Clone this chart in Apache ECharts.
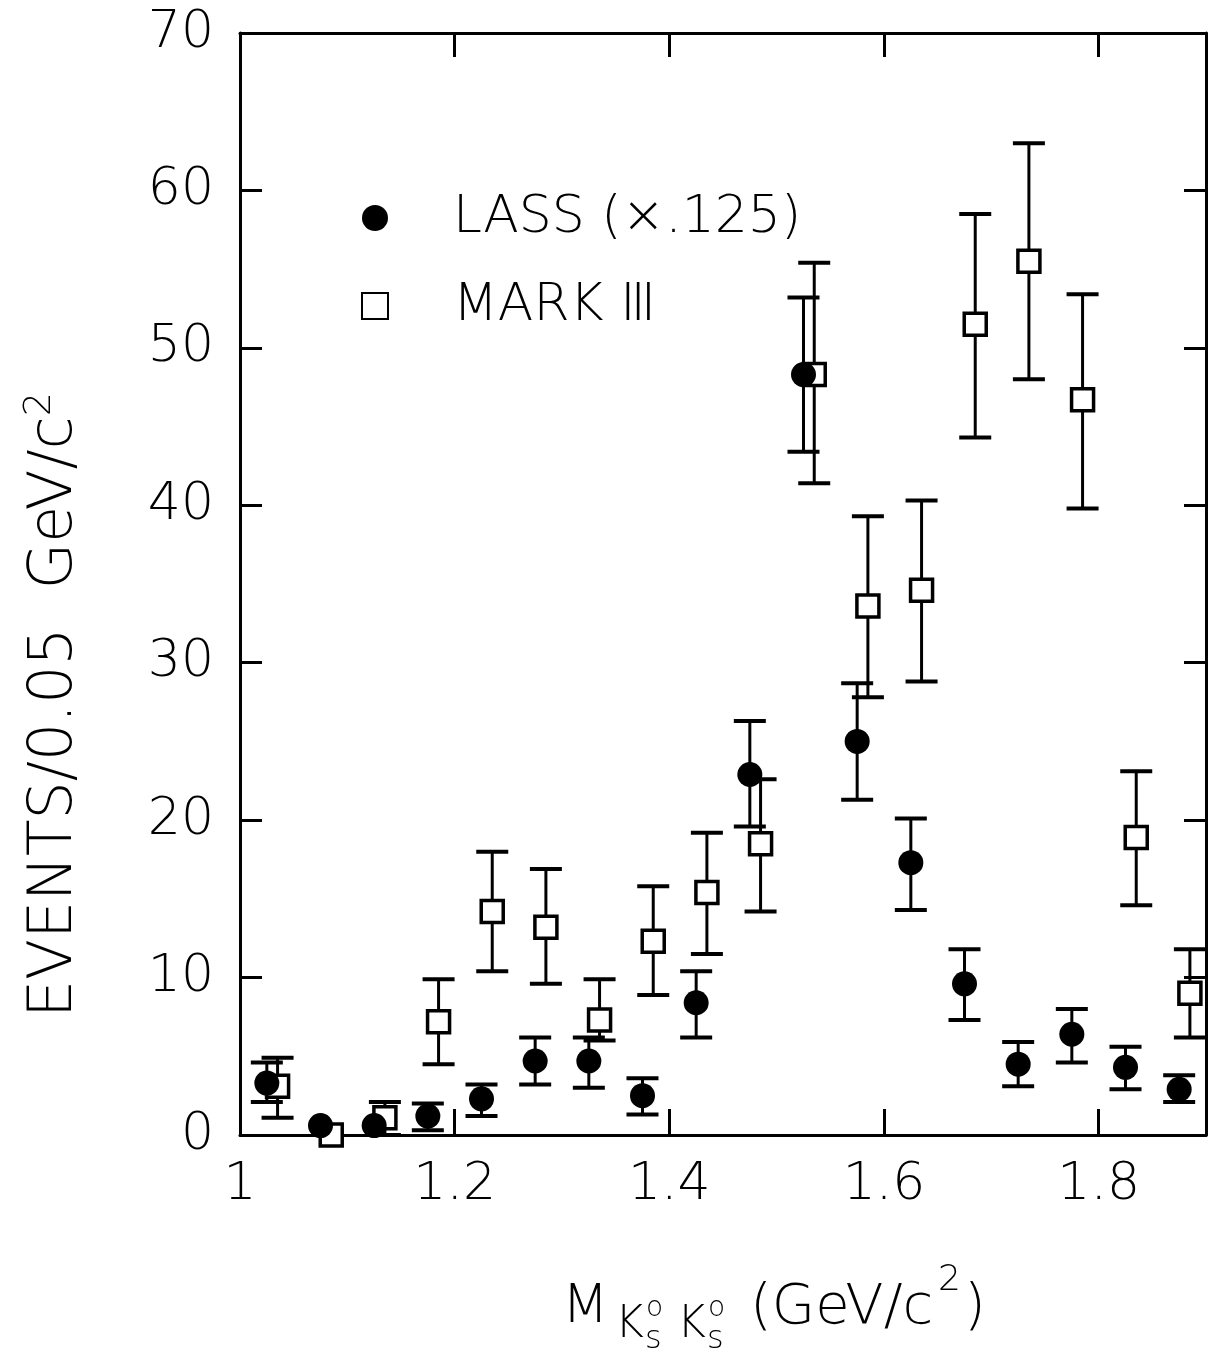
<!DOCTYPE html>
<html>
<head>
<meta charset="utf-8">
<script src="https://cdn.jsdelivr.net/npm/echarts/dist/echarts.min.js"></script>
<style>
  html, body { margin: 0; padding: 0; background: #fff; }
  #main { width: 1210px; height: 1354px; }
</style>
</head>
<body>
<div id="main"></div>
<script>
// bin centres (GeV/c^2), 0.05 wide bins
var binX = [1.025, 1.075, 1.125, 1.175, 1.225, 1.275, 1.325, 1.375, 1.425,
            1.475, 1.525, 1.575, 1.625, 1.675, 1.725, 1.775, 1.825, 1.875];
// MARK III points are drawn slightly shifted to the right
var markShift = 0.01;

// LASS (x .125)
var lassY  = [3.3, 0.6, 0.6, 1.2, 2.3, 4.7, 4.7, 2.5, 8.4, 22.9, 48.3, 25.0, 17.3, 9.6, 4.5, 6.4, 4.3, 2.9];
var lassLo = [2.1, null, null, 0.3, 1.2, 3.2, 3.0, 1.3, 6.2, 19.6, 43.4, 21.3, 14.3, 7.3, 3.1, 4.6, 2.9, 2.1];
var lassHi = [4.6, null, null, 2.0, 3.2, 6.2, 6.2, 3.6, 10.4, 26.3, 53.2, 28.7, 20.1, 11.8, 5.9, 8.0, 5.6, 3.8];

// MARK III
var markY  = [3.1, 0.0, 1.1, 7.2, 14.2, 13.2, 7.3, 12.3, 15.4, 18.5, 48.3, 33.6, 34.6, 51.5, 55.5, 46.7, 18.9, 9.0];
var markLo = [1.1, null, 0.0, 4.5, 10.4, 9.6, 6.0, 8.9, 11.5, 14.2, 41.4, 27.8, 28.8, 44.3, 48.0, 39.8, 14.6, 6.2];
var markHi = [4.9, null, 2.1, 9.9, 18.0, 16.9, 9.9, 15.8, 19.2, 22.6, 55.4, 39.3, 40.3, 58.5, 63.0, 53.4, 23.1, 11.8];

var yTicks = [0, 10, 20, 30, 40, 50, 60, 70];
var xTicks = [1.0, 1.2, 1.4, 1.6, 1.8];

var FONT = 'DejaVu Sans';
var FW = 300;

function points(ys, shift) {
    var out = [];
    for (var i = 0; i < binX.length; i++) out.push([binX[i] + shift, ys[i]]);
    return out;
}
function bars(lo, hi, shift) {
    var out = [];
    for (var i = 0; i < binX.length; i++) {
        if (lo[i] == null) continue;
        out.push([binX[i] + shift, lo[i], hi[i]]);
    }
    return out;
}

function renderErr(params, api) {
    var x = api.value(0);
    var p1 = api.coord([x, api.value(1)]);
    var p2 = api.coord([x, api.value(2)]);
    var w = 16;
    var st = { stroke: '#000', lineWidth: 3 };
    return {
        type: 'group',
        children: [
            { type: 'line', shape: { x1: p1[0], y1: p1[1], x2: p2[0], y2: p2[1] }, style: st },
            { type: 'line', shape: { x1: p1[0] - w, y1: p1[1], x2: p1[0] + w, y2: p1[1] }, style: { stroke: '#000', lineWidth: 4 } },
            { type: 'line', shape: { x1: p2[0] - w, y1: p2[1], x2: p2[0] + w, y2: p2[1] }, style: { stroke: '#000', lineWidth: 4 } }
        ]
    };
}

function xLabel(v) {
    for (var i = 0; i < xTicks.length; i++) {
        if (Math.abs(v - xTicks[i]) < 1e-6) return i === 0 ? '1' : xTicks[i].toFixed(1);
    }
    return '';
}

var axisLine = { show: true, onZero: false, lineStyle: { color: '#000', width: 3 } };

var chart = echarts.init(document.getElementById('main'));
chart.setOption({
    backgroundColor: '#fff',
    animation: false,
    grid: { left: 240, top: 33, width: 966, height: 1102 },
    legend: {
        orient: 'vertical',
        left: 356,
        top: 185,
        itemWidth: 26,
        itemHeight: 26,
        itemGap: 32,
        data: ['LASS (×.125)', 'MARK Ⅲ'],
        textStyle: { fontFamily: FONT, fontWeight: FW, fontSize: 52, color: '#000', lineHeight: 56, padding: [0, 0, 0, 60] }
    },
    xAxis: [{
        type: 'value', position: 'bottom', min: 1.0, max: 1.9, interval: 0.2,
        axisLine: axisLine,
        axisTick: { inside: true, length: 26, lineStyle: { color: '#000', width: 3 } },
        axisLabel: { formatter: xLabel, showMaxLabel: false, margin: 24, fontSize: 52, fontFamily: FONT, fontWeight: FW, color: '#000' },
        splitLine: { show: false }
    }, {
        type: 'value', position: 'top', min: 1.0, max: 1.9, interval: 0.2,
        axisLine: axisLine,
        axisTick: { inside: true, length: 24, lineStyle: { color: '#000', width: 3 } },
        axisLabel: { show: false },
        splitLine: { show: false }
    }],
    yAxis: [{
        type: 'value', position: 'left', min: 0, max: 70, interval: 10,
        axisLine: axisLine,
        axisTick: { inside: true, length: 22, lineStyle: { color: '#000', width: 3 } },
        axisLabel: { margin: 26, fontSize: 52, fontFamily: FONT, fontWeight: FW, color: '#000',
            formatter: function (v) { return yTicks.indexOf(v) >= 0 ? String(v) : ''; } },
        splitLine: { show: false }
    }, {
        type: 'value', position: 'right', min: 0, max: 70, interval: 10,
        axisLine: axisLine,
        axisTick: { inside: true, length: 22, lineStyle: { color: '#000', width: 3 } },
        axisLabel: { show: false },
        splitLine: { show: false }
    }],
    graphic: [
        // y axis title
        {
            type: 'text', x: 55, y: 705, rotation: Math.PI / 2,
            style: {
                text: '{a|EVENTS/0.05  GeV/c}{s|2}',
                align: 'center', verticalAlign: 'middle',
                rich: {
                    a: { fontFamily: FONT, fontWeight: FW, fontSize: 60, fill: '#000', lineHeight: 68 },
                    s: { fontFamily: FONT, fontWeight: FW, fontSize: 38, fill: '#000', verticalAlign: 'top', lineHeight: 68 }
                }
            }
        },
        // x axis title  M_{K0s K0s} (GeV/c^2)
        { type: 'text', x: 562, y: 1308, style: { text: 'M', fontFamily: FONT, fontWeight: FW, fontSize: 54, fill: '#000', verticalAlign: 'middle' } },
        { type: 'text', x: 615, y: 1326, style: { text: 'K', fontFamily: FONT, fontWeight: FW, fontSize: 44, fill: '#000', verticalAlign: 'middle' } },
        { type: 'text', x: 646, y: 1309, style: { text: 'o', fontFamily: FONT, fontWeight: FW, fontSize: 28, fill: '#000', verticalAlign: 'middle' } },
        { type: 'text', x: 645, y: 1340, style: { text: 's', fontFamily: FONT, fontWeight: FW, fontSize: 32, fill: '#000', verticalAlign: 'middle' } },
        { type: 'text', x: 677, y: 1326, style: { text: 'K', fontFamily: FONT, fontWeight: FW, fontSize: 44, fill: '#000', verticalAlign: 'middle' } },
        { type: 'text', x: 708, y: 1309, style: { text: 'o', fontFamily: FONT, fontWeight: FW, fontSize: 28, fill: '#000', verticalAlign: 'middle' } },
        { type: 'text', x: 707, y: 1340, style: { text: 's', fontFamily: FONT, fontWeight: FW, fontSize: 32, fill: '#000', verticalAlign: 'middle' } },
        { type: 'text', x: 750, y: 1308, style: { text: '(GeV/c', fontFamily: FONT, fontWeight: FW, fontSize: 56, fill: '#000', verticalAlign: 'middle' } },
        { type: 'text', x: 938, y: 1281, style: { text: '2', fontFamily: FONT, fontWeight: FW, fontSize: 36, fill: '#000', verticalAlign: 'middle' } },
        { type: 'text', x: 964, y: 1308, style: { text: ')', fontFamily: FONT, fontWeight: FW, fontSize: 56, fill: '#000', verticalAlign: 'middle' } }
    ],
    series: [
        {
            name: 'err-mark', type: 'custom', renderItem: renderErr,
            encode: { x: 0, y: [1, 2] }, data: bars(markLo, markHi, markShift), z: 2, silent: true
        },
        {
            name: 'err-lass', type: 'custom', renderItem: renderErr,
            encode: { x: 0, y: [1, 2] }, data: bars(lassLo, lassHi, 0), z: 2, silent: true
        },
        {
            name: 'MARK Ⅲ', type: 'scatter', symbol: 'rect', symbolSize: 22,
            itemStyle: { color: '#fff', borderColor: '#000', borderWidth: 3.5, opacity: 1 },
            data: points(markY, markShift), z: 3
        },
        {
            name: 'LASS (×.125)', type: 'scatter', symbol: 'circle', symbolSize: 25,
            itemStyle: { color: '#000', opacity: 1 },
            data: points(lassY, 0), z: 4
        }
    ]
});
</script>
</body>
</html>
